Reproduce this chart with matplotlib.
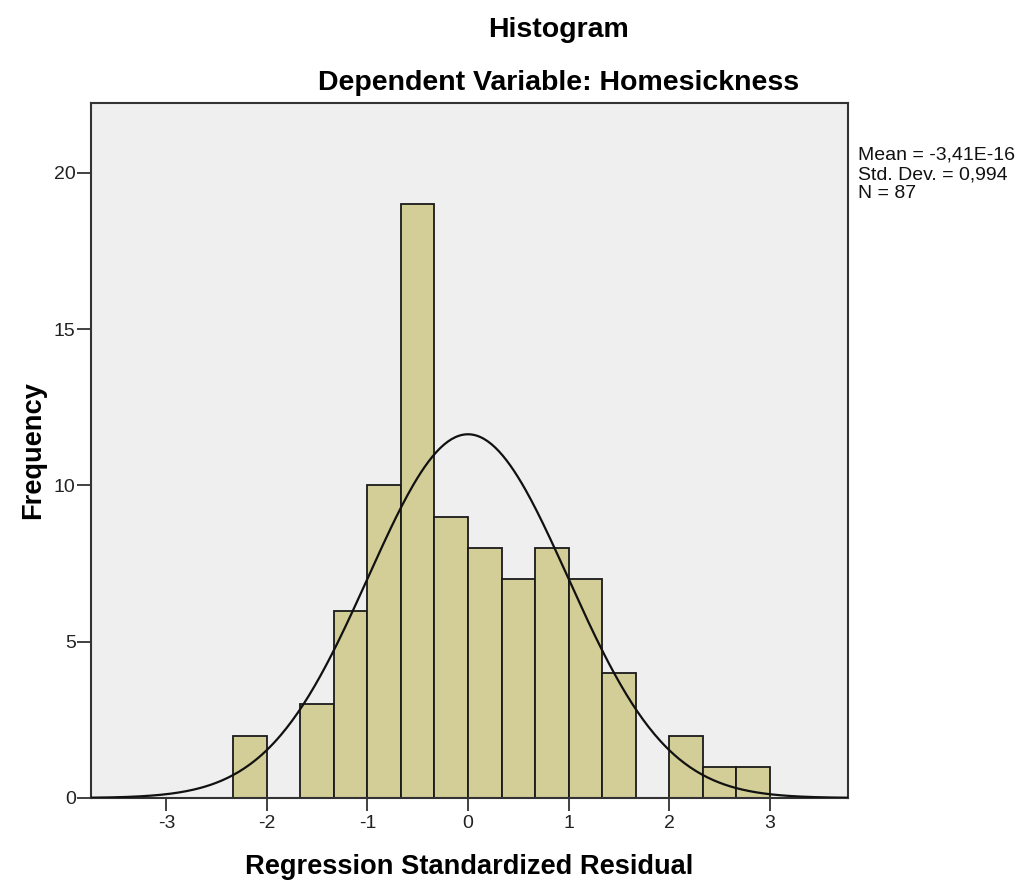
import numpy as np
import matplotlib
matplotlib.use("Agg")
import matplotlib.pyplot as plt

plt.rcParams['font.family'] = ['Liberation Sans', 'DejaVu Sans']

# Data
bin_left_edges = [-7/3, -2.0, -5/3, -4/3, -1.0, -2/3, -1/3, 0.0, 1/3, 2/3, 1.0, 4/3, 5/3, 2.0, 7/3, 8/3]
counts = [2, 0, 3, 6, 10, 19, 9, 8, 7, 8, 7, 4, 0, 2, 1, 1]
bin_width = 1/3
mean_val = -3.41e-16
std_val = 0.994
n_val = 87
x_ticks = [-3, -2, -1, 0, 1, 2, 3]
y_ticks = [0, 5, 10, 15, 20]

fig = plt.figure(figsize=(10.23, 8.86), dpi=100)
ax = fig.add_axes([91/1023, 1-798/886, (848-91)/1023, (798-103)/886])
ax.set_facecolor('#EFEFEF')

ax.bar(bin_left_edges, counts, width=bin_width, align='edge',
       color='#D3CE97', edgecolor='#1a1a1a', linewidth=1.3, zorder=2)

xs = np.linspace(-3.75, 3.78, 400)
ys = n_val * bin_width * np.exp(-0.5 * ((xs - mean_val) / std_val) ** 2) / (std_val * np.sqrt(2 * np.pi))
ax.plot(xs, ys, color='#111111', linewidth=1.6, zorder=3)

ax.set_xlim(-3.75, 3.78)
ax.set_ylim(0, 22.24)
ax.set_xticks(x_ticks)
ax.set_yticks(y_ticks)
ax.set_xticklabels([str(t) for t in x_ticks])
ax.set_yticklabels([str(t) for t in y_ticks])
ax.tick_params(direction='out', width=1.3, color='#333333',
               labelsize=14, labelcolor='#222222')
ax.tick_params(axis='x', length=9, pad=3)
ax.tick_params(axis='y', length=10, pad=1)
for s in ax.spines.values():
    s.set_linewidth(1.5)
    s.set_color('#333333')

ax.set_xlabel('Regression Standardized Residual', fontsize=19.6, fontweight='bold', labelpad=16)
ax.set_ylabel('Frequency', fontsize=19.6, fontweight='bold', labelpad=6)

fig.text(559/1023, 1-30/886, 'Histogram', ha='center', va='center', fontsize=20.5, fontweight='bold')
fig.text(559/1023, 1-83/886, 'Dependent Variable: Homesickness', ha='center', va='center', fontsize=20.5, fontweight='bold')

fig.text(858/1023, 1-147/886, 'Mean = -3,41E-16\nStd. Dev. = 0,994\nN = 87',
         ha='left', va='top', fontsize=14, linespacing=1.17, color='#111111')

fig.savefig('out.png', dpi=100)
